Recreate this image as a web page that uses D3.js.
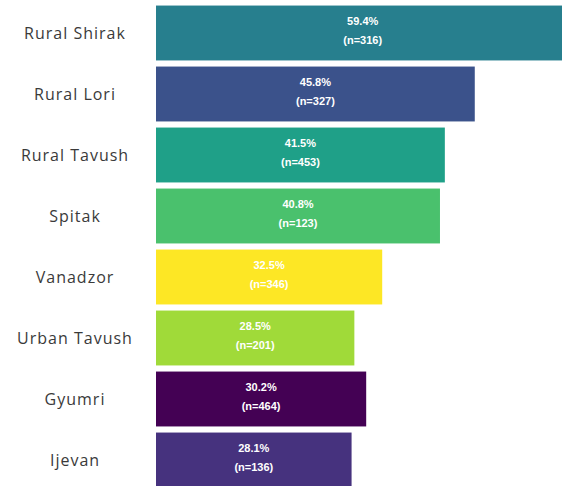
<!DOCTYPE html>
<html>
<head>
<meta charset="utf-8">
<script src="https://cdn.jsdelivr.net/npm/d3@7"></script>
<style>
  html, body { margin: 0; padding: 0; background: #fff; }
  svg { display: block; }
</style>
</head>
<body>
<svg id="chart" width="562" height="486"></svg>
<script>
// Share of respondents by area, with sample sizes
const regions = ["Rural Shirak", "Rural Lori", "Rural Tavush", "Spitak", "Vanadzor", "Urban Tavush", "Gyumri", "Ijevan"];
const shares = [59.4, 45.8, 41.5, 40.8, 32.5, 28.5, 30.2, 28.1];
const sampleSizes = [316, 327, 453, 123, 346, 201, 464, 136];
const barColors = ["#277f8e", "#3b528b", "#1fa088", "#4ac16d", "#fde725", "#a0da39", "#440154", "#46327e"];

const rows = regions.map((r, i) => ({ region: r, share: shares[i], n: sampleSizes[i], color: barColors[i] }));

const svg = d3.select("#chart");

const x = d3.scaleLinear().domain([0, 60]).range([156, 156 + 60 * 6.96]);
const y = d3.scaleBand().domain(regions).range([2.5, 2.5 + 8 * 61]).paddingInner(0.1).paddingOuter(0.05);

// Bars
svg.append("g").selectAll("rect")
  .data(rows)
  .join("rect")
  .attr("x", x(0))
  .attr("y", d => y(d.region))
  .attr("width", d => x(d.share) - x(0))
  .attr("height", y.bandwidth())
  .attr("fill", d => d.color);

// Category labels on the left
const yAxis = svg.append("g")
  .attr("transform", "translate(75,1)")
  .call(d3.axisLeft(y).tickSize(0).tickPadding(0));
yAxis.select(".domain").remove();
yAxis.selectAll("text")
  .attr("text-anchor", "middle")
  .attr("font-family", "'Open Sans', sans-serif")
  .attr("font-size", 16)
  .attr("letter-spacing", 1)
  .attr("fill", "#3a3a3a");

// Value labels inside bars
const labels = svg.append("g").selectAll("text")
  .data(rows)
  .join("text")
  .attr("text-anchor", "middle")
  .attr("font-family", "'Liberation Sans', Arial, sans-serif")
  .attr("font-weight", "bold")
  .attr("font-size", 11)
  .attr("fill", "#fff")
  .attr("transform", d => `translate(${(x(0) + x(d.share)) / 2},${y(d.region) + y.bandwidth() / 2})`);

labels.append("tspan").attr("x", 0).attr("y", -8).text(d => d.share.toFixed(1) + "%");
labels.append("tspan").attr("x", 0).attr("y", 11).text(d => `(n=${d.n})`);
</script>
</body>
</html>
